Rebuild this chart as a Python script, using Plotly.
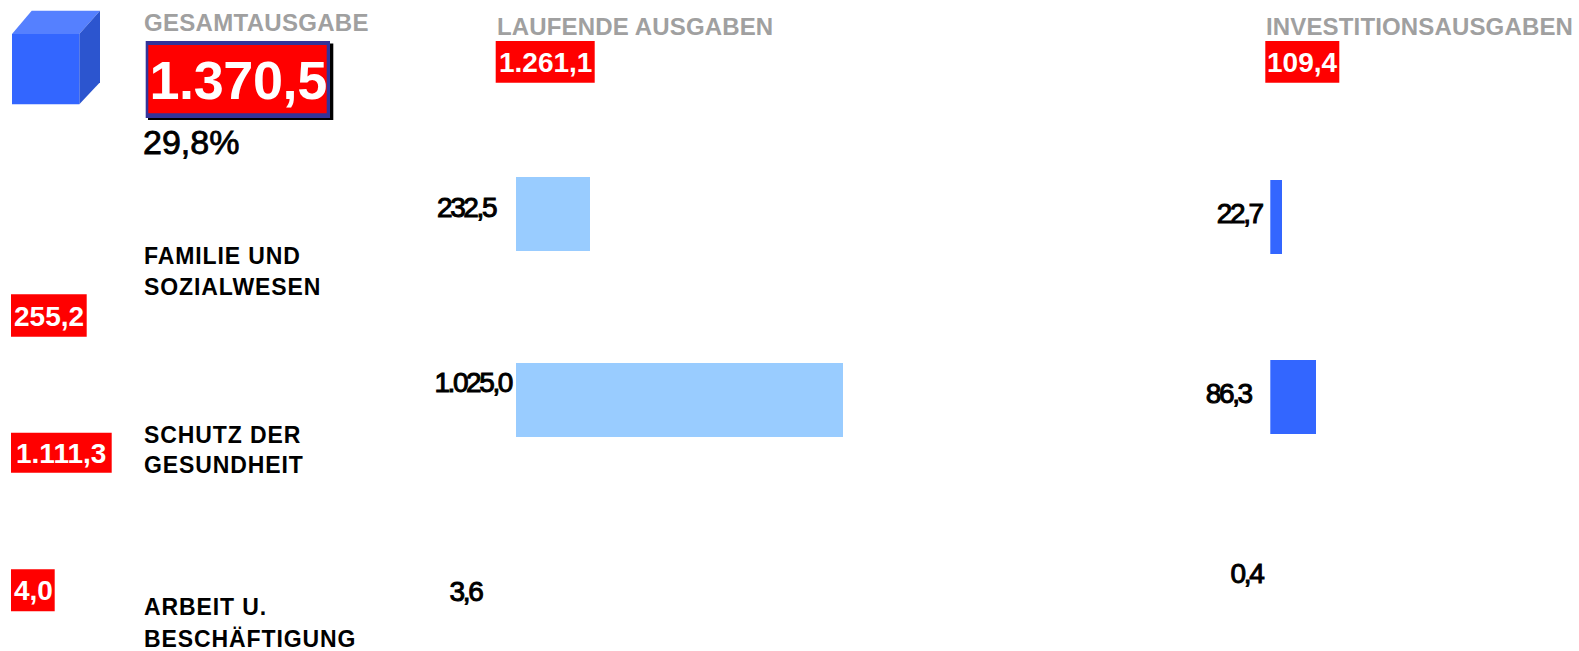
import json
import plotly.graph_objects as go

W, H = 1579, 651

# ---- data ----
categories = ["FAMILIE UND SOZIALWESEN", "SCHUTZ DER GESUNDHEIT", "ARBEIT U. BESCHÄFTIGUNG"]
category_lines = [["FAMILIE UND", "SOZIALWESEN"], ["SCHUTZ DER", "GESUNDHEIT"], ["ARBEIT U.", "BESCHÄFTIGUNG"]]
totals = [255.2, 1111.3, 4.0]
current = [232.5, 1025.0, 3.6]
investment = [22.7, 86.3, 0.4]
grand_total = 1370.5
grand_share = 29.8
current_total = 1261.1
investment_total = 109.4
head_total = "GESAMTAUSGABE"
head_current = "LAUFENDE AUSGABEN"
head_invest = "INVESTITIONSAUSGABEN"


def de(v):
    s = f"{v:,.1f}"
    return s.replace(",", "#").replace(".", ",").replace("#", ".")


def px(x):
    return x / W


def py(y):
    return 1 - y / H


SANS = "Liberation Sans"
GREY = "#a0a0a0"
RED = "#ff0000"

fig = go.Figure()

# the third category's bars are too thin to show in the picture: only its labels are drawn
fig.add_bar(x=current[:2], y=categories[:2], orientation="h", width=0.4,
            marker=dict(color="#99ccff", line_width=0), xaxis="x", yaxis="y", showlegend=False)
fig.add_bar(x=investment[:2], y=categories[:2], orientation="h", width=0.41,
            marker=dict(color="#3366ff", line_width=0), xaxis="x2", yaxis="y2", showlegend=False)

shapes = []


def rect(x0, y0, x1, y1, color):
    shapes.append(dict(type="rect", xref="paper", yref="paper", layer="below",
                       x0=px(x0), x1=px(x1), y0=py(y1), y1=py(y0),
                       fillcolor=color, line_width=0))


def poly(points, color):
    path = "M " + " L ".join(f"{px(a)},{py(b)}" for a, b in points) + " Z"
    shapes.append(dict(type="path", xref="paper", yref="paper", layer="below",
                       path=path, fillcolor=color, line_width=0))


# cube pictogram
poly([(12, 34), (31.7, 10.7), (100, 10.7), (79.3, 34)], "#5580ff")
poly([(79.3, 34), (100, 10.7), (100, 82.3), (79.3, 104.3)], "#2c55cf")
rect(12, 34, 79.3, 104.3, "#3366ff")

# big total box
rect(148, 43.5, 333.3, 120, "#000000")
rect(145.7, 41, 330, 118, "#333399")
rect(148.3, 45, 326.7, 113.3, RED)

# small red boxes
rect(495.7, 41, 594.7, 82.7, RED)
rect(1265.3, 41, 1339.3, 82.7, RED)
rect(11, 294.3, 86.7, 336.7, RED)
rect(11, 432.7, 111.7, 472.7, RED)
rect(11, 569.3, 54.7, 611.3, RED)

ann = []
text_style = {}


def text(s, x, y, size, color="#000000", bold=True, anchor="left", spacing=0, stroke=0):
    ann.append(dict(text=f"<b>{s}</b>" if bold else s, xref="paper", yref="paper",
                    x=px(x), y=py(y), xanchor=anchor, yanchor="middle", showarrow=False,
                    borderpad=0, borderwidth=0,
                    font=dict(family=SANS, size=size, color=color)))
    text_style[s] = dict(spacing=spacing, stroke=stroke, color=color, left=anchor == "left")


text(head_total, 143.5, 22, 24, GREY, spacing=0.3)
text(head_current, 497, 26, 24, GREY, spacing=0.15)
text(head_invest, 1266, 26, 24, GREY, spacing=0.15)

text(de(grand_total), 238.5, 80, 54, "#ffffff", anchor="center", spacing=-0.4)
text(de(grand_share) + "%", 143, 142, 34, bold=False, stroke=0.8)
text(de(current_total), 545, 62, 28, "#ffffff", anchor="center")
text(de(investment_total), 1302, 62, 28, "#ffffff", anchor="center")

for t, (cx, cy) in zip(totals, [(49, 316), (61, 453), (33, 590)]):
    text(de(t), cx, cy, 28, "#ffffff", anchor="center")

for lines, ys in zip(category_lines, [(256, 287), (435, 465), (607, 639)]):
    for line, yy in zip(lines, ys):
        text(line, 143.5, yy, 23, spacing=0.9)

for v, (cx, cy) in zip(current, [(465.5, 207), (472.5, 382), (465.5, 591)]):
    text(de(v), cx, cy, 28, bold=False, anchor="center", spacing=-2.4, stroke=1)
for v, (cx, cy) in zip(investment, [(1239, 213), (1228.5, 393), (1246.5, 573)]):
    text(de(v), cx, cy, 28, bold=False, anchor="center", spacing=-2.4, stroke=1)

PX_PER_CURRENT = 0.3195
PX_PER_INVEST = 0.535
x1_left, x1_right = 515.7, 1100
x2_left, x2_right = 1270.3, 1579

fig.update_layout(
    width=W, height=H, margin=dict(l=0, r=0, t=0, b=0),
    paper_bgcolor="#ffffff", plot_bgcolor="rgba(0,0,0,0)",
    bargap=0, barmode="overlay",
    shapes=shapes, annotations=ann,
    xaxis=dict(domain=[px(x1_left), px(x1_right)], range=[0, (x1_right - x1_left) / PX_PER_CURRENT],
               visible=False, anchor="y"),
    xaxis2=dict(domain=[px(x2_left), px(x2_right)], range=[0, (x2_right - x2_left) / PX_PER_INVEST],
                visible=False, anchor="y2"),
    yaxis=dict(domain=[0, 1], type="category", categoryorder="array", categoryarray=categories,
               range=[(H - 214) / 185.7, -214 / 185.7], visible=False, anchor="x"),
    yaxis2=dict(domain=[0, 1], type="category", categoryorder="array", categoryarray=categories,
                range=[(H - 217) / 180.2, -217 / 180.2], visible=False, anchor="x2"),
)

post = """
document.body.style.margin='0';document.body.style.overflow='hidden';
var S = %s;
function applyStyle(){
  document.querySelectorAll('.annotation-text').forEach(function(t){
    var s = S[t.textContent];
    if(!s || t.dataset.styled) return;
    t.dataset.styled = '1';
    var before = t.getBBox().x;
    if(s.spacing) t.style.letterSpacing = s.spacing + 'px';
    if(s.stroke){ t.style.stroke = s.color; t.style.strokeWidth = s.stroke + 'px'; }
    if(s.left){
      var after = t.getBBox().x;
      t.setAttribute('x', parseFloat(t.getAttribute('x') || 0) + before - after);
    }
  });
}
applyStyle(); setTimeout(applyStyle, 50);
""" % json.dumps(text_style)

fig.write_html("out.html", config=dict(displayModeBar=False), post_script=post)
